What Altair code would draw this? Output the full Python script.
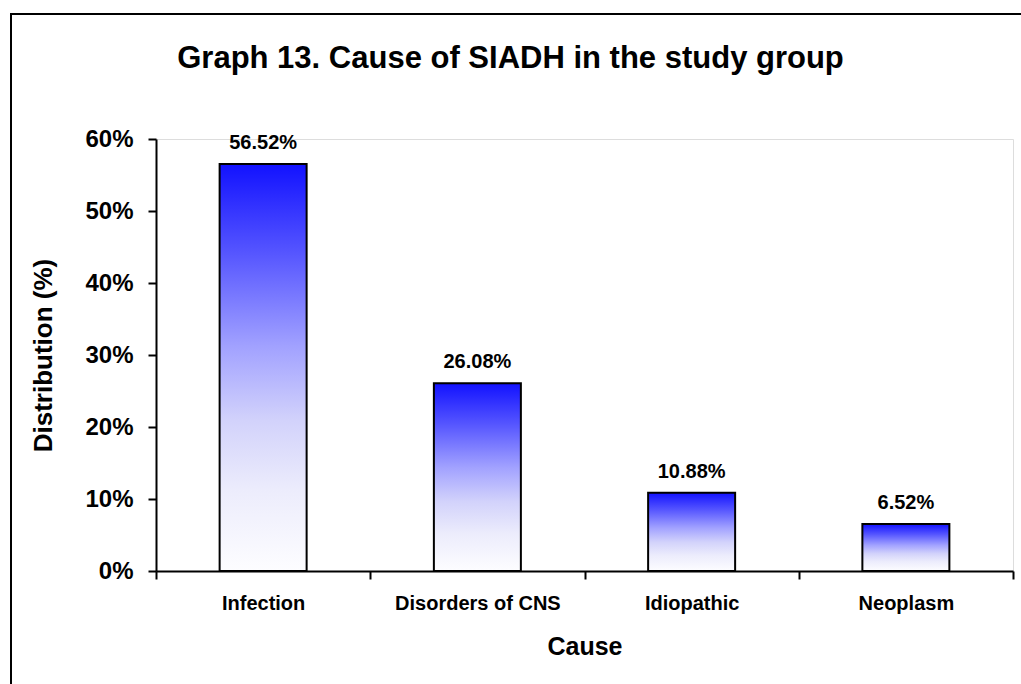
import altair as alt
import pandas as pd

# Causes of SIADH and their share of the study group (%)
causes = ["Infection", "Disorders of CNS", "Idiopathic", "Neoplasm"]
shares = [56.52, 26.08, 10.88, 6.52]
y_ticks = [0, 10, 20, 30, 40, 50, 60]

df = pd.DataFrame({"cause": causes, "share": shares})
df["label"] = [f"{v:.2f}%" for v in shares]

FONT = "Liberation Sans"
PLOT_W, PLOT_H = 857, 432
LEFT, TOP = 156, 139

blue_fade = alt.Gradient(
    gradient="linear",
    x1=0, y1=0, x2=0, y2=1,
    stops=[
        alt.GradientStop(offset=0.0, color="#1212ff"),
        alt.GradientStop(offset=0.22, color="#5656ff"),
        alt.GradientStop(offset=0.45, color="#a2a2ff"),
        alt.GradientStop(offset=0.63, color="#d2d2fb"),
        alt.GradientStop(offset=0.80, color="#ececfc"),
        alt.GradientStop(offset=1.0, color="#fdfdff"),
    ],
)

x_enc = alt.X(
    "cause:N",
    sort=causes,
    scale=alt.Scale(paddingInner=0, paddingOuter=0),
    axis=alt.Axis(
        title="Cause",
        labelAngle=0,
        labelFont=FONT,
        labelFontSize=20,
        labelFontWeight="bold",
        labelColor="black",
        labelPadding=14,
        tickBand="extent",
        tickSize=8,
        tickWidth=2,
        tickColor="black",
        domainColor="black",
        domainWidth=2,
        titleFont=FONT,
        titleFontSize=25,
        titleFontWeight="bold",
        titleColor="black",
        titlePadding=21,
        grid=False,
    ),
)

y_enc = alt.Y(
    "share:Q",
    scale=alt.Scale(domain=[0, 60], nice=False),
    axis=alt.Axis(
        title="Distribution (%)",
        values=y_ticks,
        labelExpr="datum.value + '%'",
        labelFont=FONT,
        labelFontSize=24,
        labelFontWeight="bold",
        labelColor="black",
        labelPadding=15,
        tickSize=8,
        tickWidth=2,
        tickColor="black",
        domainColor="black",
        domainWidth=2,
        titleFont=FONT,
        titleFontSize=26,
        titleFontWeight="bold",
        titleColor="black",
        titlePadding=28,
        grid=False,
    ),
)

bars = alt.Chart(df).mark_bar(
    size=87, fill=blue_fade, stroke="black", strokeWidth=2
).encode(x=x_enc, y=y_enc)

labels = alt.Chart(df).mark_text(
    font=FONT, fontSize=20, fontWeight="bold", color="black",
    baseline="alphabetic", dy=-15
).encode(x=alt.X("cause:N", sort=causes), y="share:Q", text="label:N")

# outer frame around the whole figure
frame = alt.Chart(df.head(1)).mark_rect(
    fill=None, stroke="black", strokeWidth=2
).encode(
    x=alt.value(11 - LEFT), x2=alt.value(1030 - LEFT),
    y=alt.value(14 - TOP), y2=alt.value(692 - TOP),
)

chart = alt.layer(frame, bars, labels).properties(
    width=PLOT_W,
    height=PLOT_H,
    autosize=alt.AutoSizeParams(type="none"),
    padding={"left": LEFT, "top": TOP, "right": 1021 - LEFT - PLOT_W, "bottom": 684 - TOP - PLOT_H},
    title=alt.TitleParams(
        "Graph 13. Cause of SIADH in the study group",
        font=FONT,
        fontSize=31,
        fontWeight="bold",
        color="black",
        anchor="middle",
        frame="group",
        baseline="alphabetic",
        dx=-74,
        offset=-86,
    ),
).configure_view(stroke=None).configure(background="white")

chart.save("out.html", embed_options={"renderer": "svg", "actions": False})
